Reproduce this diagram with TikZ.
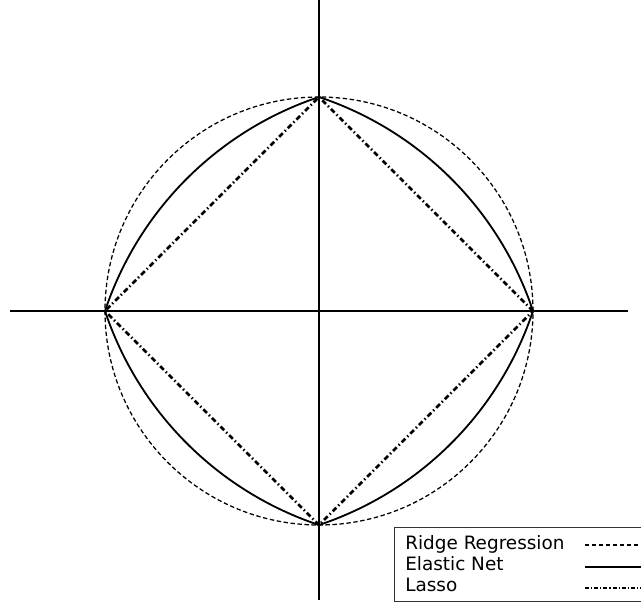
\documentclass[tikz,border=0pt]{standalone}
\usepackage{fontspec}
\setmainfont{DejaVu Sans}
\usetikzlibrary{positioning}

\begin{document}
\begin{tikzpicture}[
    declare function={kk(\t)=abs(cos(\t))+abs(sin(\t));
      enr(\t)=(sqrt(kk(\t)^2+8)-kk(\t))/2;},
    axisline/.style={line width=1.4pt, draw=black},
    ridge/.style={line width=0.9pt, dash pattern=on 0.11cm off 0.065cm},
    enet/.style={line width=1.3pt},
    lasso/.style={line width=1.8pt, dash pattern=on 0.13cm off 0.07cm on 0.035cm off 0.07cm},
    legtext/.style={anchor=base west, inner sep=0pt, font=\fontsize{13.1}{15}\selectfont},
    legbox/.style={draw=black!80, line width=0.7pt},
  ]
  \useasboundingbox (-7.975,-7.375) rectangle (8.05,7.775);

  % axes
  \coordinate (O) at (0,0);
  \coordinate (xmin) at (-7.725,0);
  \coordinate (xmax) at (7.725,0);
  \coordinate (ymin) at (0,-7.225);
  \coordinate (ymax) at (0,7.775);
  \draw[axisline] (xmin) -- (xmax);
  \draw[axisline] (ymin) -- (ymax);

  % tips on the axes
  \coordinate (E) at (5.35,0);
  \coordinate (N) at (0,5.35);
  \coordinate (W) at (-5.35,0);
  \coordinate (S) at (0,-5.35);

  % the three balls
  \draw[ridge] (O) circle (5.35);
  \draw[enet] plot[domain=0:360, samples=361]
    ({5.35*enr(\x)*cos(\x)},{5.35*enr(\x)*sin(\x)}) -- cycle;
  \draw[lasso] (E) -- (N) -- (W) -- (S) -- cycle;

  % legend
  \coordinate (boxnw) at (1.875,-5.4);
  \coordinate (boxse) at (8.3,-7.25);
  \draw[legbox] (boxnw) rectangle (boxse);
  \node[legtext] (lridge) at (2.15,-5.96) {Ridge Regression};
  \node[legtext] (lenet) at ([yshift=-0.525cm]lridge.base west) {Elastic Net};
  \node[legtext] (llasso) at ([yshift=-0.525cm]lenet.base west) {Lasso};

  \coordinate (r1) at (6.65,-5.85);
  \coordinate (r2) at (8.3,-5.85);
  \coordinate (e1) at (6.65,-6.4);
  \coordinate (e2) at (8.3,-6.4);
  \coordinate (l1) at (6.65,-6.925);
  \coordinate (l2) at (8.3,-6.925);
  \draw[ridge] (r1) -- (r2);
  \draw[enet] (e1) -- (e2);
  \draw[lasso, line width=0.9pt, dash pattern=on 0.1cm off 0.05cm on 0.03cm off 0.05cm] (l1) -- (l2);
\end{tikzpicture}
\end{document}
